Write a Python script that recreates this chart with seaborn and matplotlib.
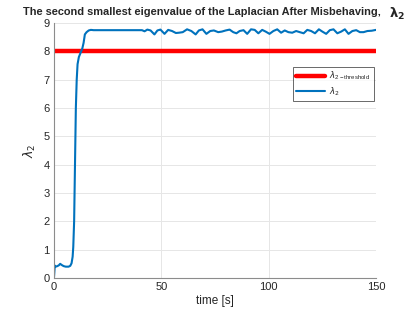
import matplotlib
matplotlib.use('Agg')
import matplotlib.pyplot as plt
import pandas as pd
import seaborn as sns

# lambda_2 readings
t_vals = [0, 0.4, 0.8, 1.6, 2.3, 2.9, 3.6, 4.5, 5.5, 6.8, 7.6, 8.2, 8.7, 9.0, 9.4, 9.8,
          10.2, 10.6, 11.0, 11.6, 12.4, 13.2, 13.8, 14.4, 15.2, 16.2, 17.2, 18.5, 22, 30,
          38, 41, 42.2, 43.5, 45, 46.8, 48.2, 49.6, 51.5, 53.2, 55, 56.8, 58.2, 60, 62,
          64, 66, 67.5, 69.2, 71, 72.8, 74.5, 76.5, 78.2, 80, 81.8, 83.5, 85, 86.5, 88.3,
          90, 91.8, 93.5, 95.2, 97, 98.6, 100.4, 102.2, 104, 105.8, 107.5, 109.2, 111,
          112.8, 114.5, 116.3, 118, 119.8, 121.6, 123.4, 125, 126.8, 128.5, 130.2, 132,
          133.8, 135.5, 137.2, 139, 140.8, 142.5, 144.2, 146, 148, 150]
lam2 = [0.0, 0.44, 0.4, 0.42, 0.45, 0.5, 0.46, 0.42, 0.4, 0.4, 0.43, 0.52, 0.75, 1.1, 2.0, 4.0,
        6.0, 7.0, 7.55, 7.8, 7.95, 8.1, 8.3, 8.6, 8.68, 8.74, 8.76, 8.75, 8.75, 8.75,
        8.75, 8.75, 8.71, 8.77, 8.74, 8.6, 8.74, 8.77, 8.62, 8.76, 8.72, 8.65, 8.66, 8.68,
        8.78, 8.72, 8.6, 8.74, 8.78, 8.62, 8.72, 8.74, 8.68, 8.7, 8.74, 8.77, 8.68, 8.64,
        8.72, 8.75, 8.62, 8.78, 8.76, 8.64, 8.76, 8.7, 8.62, 8.72, 8.78, 8.66, 8.74, 8.68,
        8.66, 8.72, 8.68, 8.64, 8.76, 8.72, 8.64, 8.78, 8.7, 8.62, 8.75, 8.78, 8.64, 8.7,
        8.78, 8.62, 8.72, 8.75, 8.68, 8.68, 8.72, 8.73, 8.76]
threshold = 8.0
x_ticks = [0, 50, 100, 150]
y_ticks = list(range(0, 10))

sns.set_style('whitegrid')
plt.rcParams['font.family'] = ['Liberation Sans', 'DejaVu Sans']
plt.rcParams['mathtext.fontset'] = 'dejavusans'

df = pd.DataFrame({'t': t_vals, 'lam2': lam2})
thr = pd.DataFrame({'t': [0, 150], 'v': [threshold, threshold]})

fig = plt.figure(figsize=(4.15, 3.12), dpi=100)
ax = fig.add_axes([0.130, 0.109, 0.776, 0.817])

sns.lineplot(data=thr, x='t', y='v', ax=ax, color='#ff0000', linewidth=3.2,
             label=r'$\lambda_{\mathregular{2-threshold}}$')
sns.lineplot(data=df, x='t', y='lam2', ax=ax, color='#0072BD', linewidth=1.5,
             label=r'$\lambda_2$')

ax.set_xlim(0, 150)
ax.set_ylim(0, 9)
ax.set_xticks(x_ticks)
ax.set_yticks(y_ticks)
ax.grid(True, color='#e6e6e6', linewidth=0.7)
for s in ['top', 'right']:
    ax.spines[s].set_visible(False)
for s in ['left', 'bottom']:
    ax.spines[s].set_color('#8c8c8c')
    ax.spines[s].set_linewidth(0.8)
ax.tick_params(axis='both', direction='in', length=3, labelsize=8, colors='#262626',
               pad=3)
ax.tick_params(axis='both', color='#8c8c8c')

ax.set_xlabel('time [s]', fontsize=8.5, color='#262626', labelpad=2)
ax.set_ylabel(r'$\lambda_2$', fontsize=9, color='#262626', labelpad=4)

fig.text(0.487, 0.962, 'The second smallest eigenvalue of the Laplacian After Misbehaving,',
         fontsize=7.9, fontweight='bold', ha='center', va='center')
fig.text(0.957, 0.956, r'$\mathbf{\lambda_2}$', fontsize=9.5, ha='center', va='center')

leg = ax.legend(loc='upper right', bbox_to_anchor=(1.006, 0.846), fontsize=6.2,
                frameon=True, fancybox=False, handlelength=3.4, borderpad=0.35,
                labelspacing=0.35, handletextpad=0.5)
leg.get_frame().set_edgecolor('#262626')
leg.get_frame().set_linewidth(0.6)

fig.savefig('out.png', dpi=100)
